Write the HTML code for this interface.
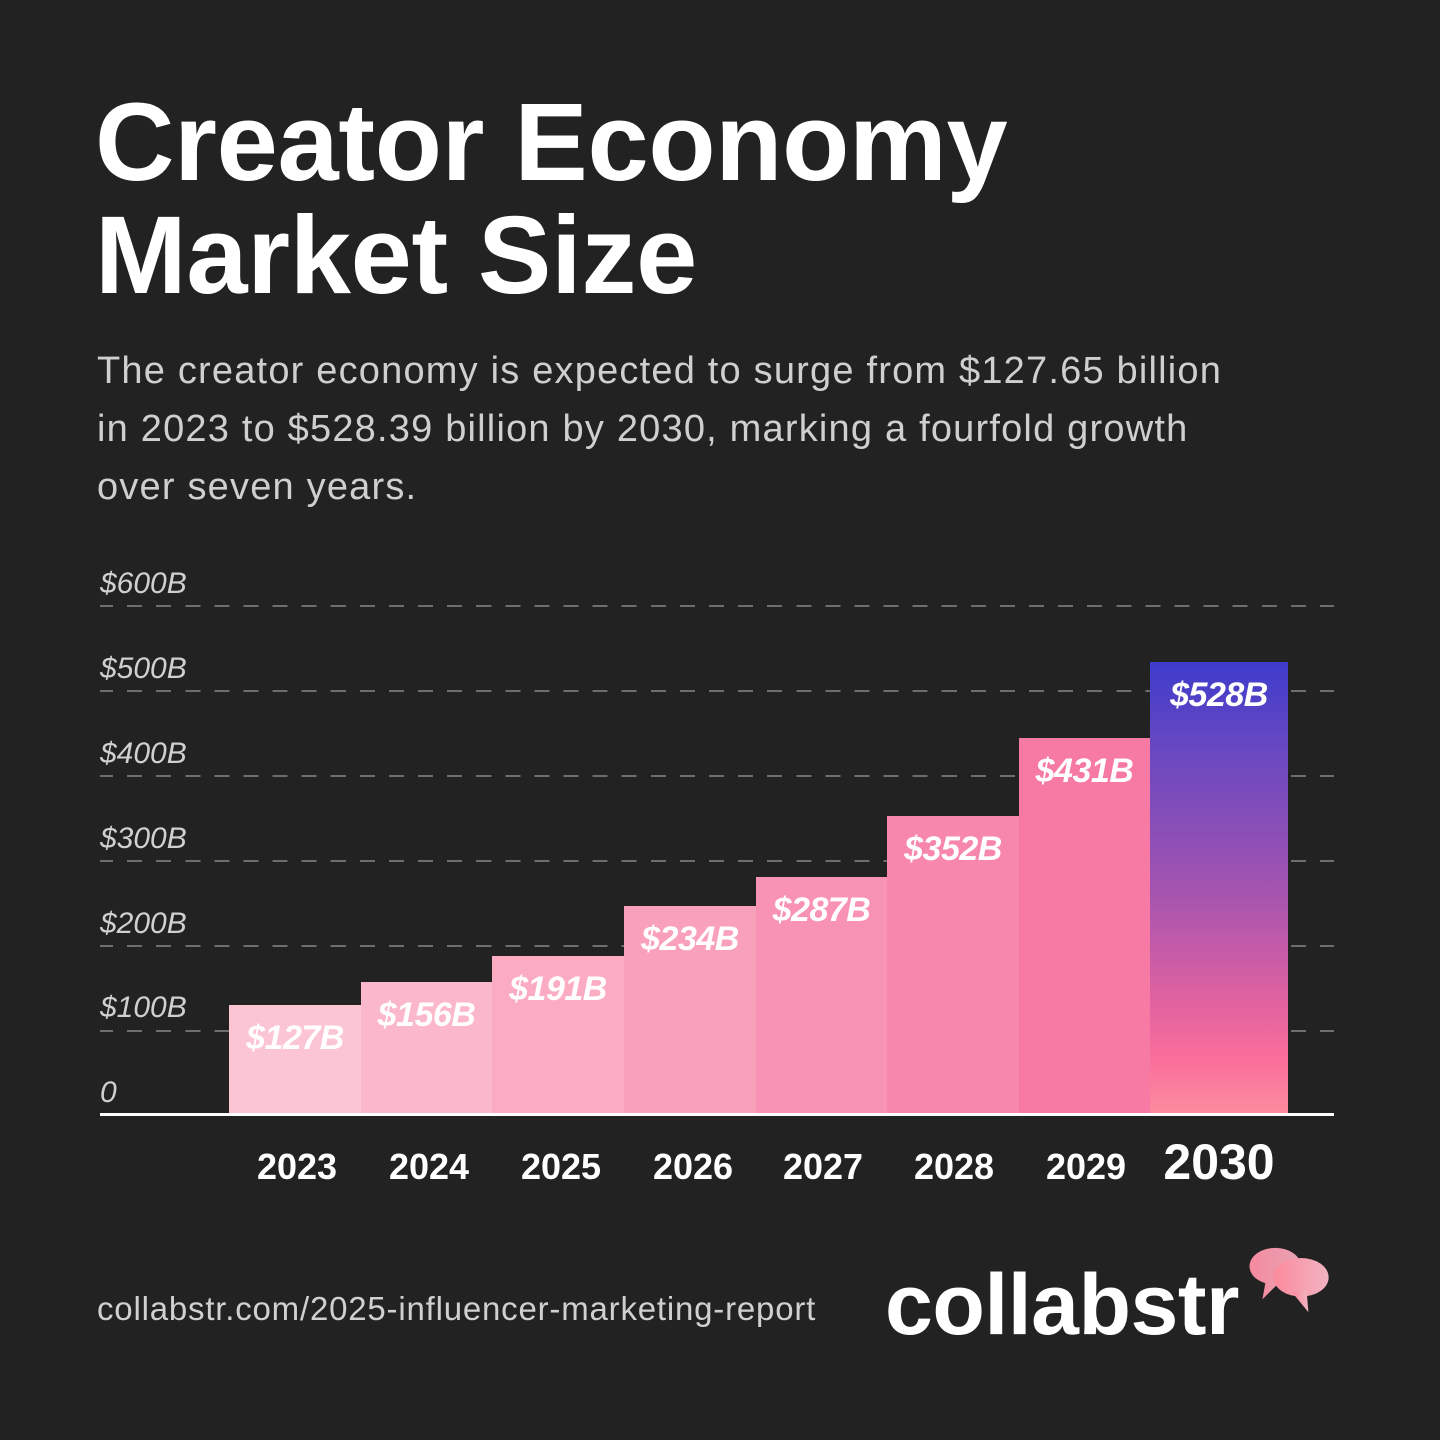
<!DOCTYPE html>
<html><head><meta charset="utf-8"><style>
body{margin:0;width:1440px;height:1440px;background:#222222;position:relative;overflow:hidden;font-family:"Liberation Sans",sans-serif;}
.a{position:absolute;white-space:nowrap;}
h1{position:absolute;left:95px;top:86px;margin:0;font-size:110px;line-height:113px;font-weight:bold;color:#fff;letter-spacing:-0.3px;}
.sub{left:97px;top:342px;font-size:38px;line-height:58px;color:#cfcfcf;letter-spacing:1.2px;}
.yl{left:100px;font-size:30px;font-style:italic;color:#d0d0d0;transform:translateY(-50%);}
.grid{position:absolute;left:100px;width:1234px;height:0;border-top:2px dashed #6e6e6e;}
.bar{position:absolute;bottom:326px;}
.val{position:absolute;left:0;right:0;text-align:center;font-size:34px;font-weight:bold;font-style:italic;color:#fff;top:14px;letter-spacing:-0.5px;}
.yr{top:1146px;font-size:36px;font-weight:bold;color:#fff;transform:translateX(-50%);}
</style></head><body>
<h1>Creator Economy<br>Market Size</h1>
<div class="a sub">The creator economy is expected to surge from $127.65 billion<br>in 2023 to $528.39 billion by 2030, marking a fourfold growth<br>over seven years.</div>

<div class="grid" style="top:605px;border-image:repeating-linear-gradient(90deg,#6e6e6e 0 15px,transparent 15px 29px) 2;"></div>
<div class="grid" style="top:690px;border-image:repeating-linear-gradient(90deg,#6e6e6e 0 15px,transparent 15px 29px) 2;"></div>
<div class="grid" style="top:775px;border-image:repeating-linear-gradient(90deg,#6e6e6e 0 15px,transparent 15px 29px) 2;"></div>
<div class="grid" style="top:860px;border-image:repeating-linear-gradient(90deg,#6e6e6e 0 15px,transparent 15px 29px) 2;"></div>
<div class="grid" style="top:945px;border-image:repeating-linear-gradient(90deg,#6e6e6e 0 15px,transparent 15px 29px) 2;"></div>
<div class="grid" style="top:1030px;border-image:repeating-linear-gradient(90deg,#6e6e6e 0 15px,transparent 15px 29px) 2;"></div>

<div class="a yl" style="top:584px">$600B</div>
<div class="a yl" style="top:669px">$500B</div>
<div class="a yl" style="top:754px">$400B</div>
<div class="a yl" style="top:839px">$300B</div>
<div class="a yl" style="top:924px">$200B</div>
<div class="a yl" style="top:1008px">$100B</div>
<div class="a yl" style="top:1093px">0</div>

<div class="bar" style="left:229px;width:132px;top:1005px;background:#fcc5d4"><div class="val">$127B</div></div>
<div class="bar" style="left:361px;width:131px;top:982px;background:#fbb8cb"><div class="val">$156B</div></div>
<div class="bar" style="left:492px;width:132px;top:956px;background:#fbacc3"><div class="val">$191B</div></div>
<div class="bar" style="left:624px;width:132px;top:906px;background:#f9a0bb"><div class="val">$234B</div></div>
<div class="bar" style="left:756px;width:131px;top:877px;background:#f993b5"><div class="val">$287B</div></div>
<div class="bar" style="left:887px;width:132px;top:816px;background:#f887ae"><div class="val">$352B</div></div>
<div class="bar" style="left:1019px;width:131px;top:738px;background:#f77aa5"><div class="val">$431B</div></div>
<div class="bar" style="left:1150px;width:138px;top:662px;background:linear-gradient(180deg,#3e3ccc 0%,#6a48c0 20%,#a353b0 50%,#e062a0 75%,#fa6e9c 88%,#fb8c9e 100%)"><div class="val">$528B</div></div>

<div style="position:absolute;left:100px;top:1113px;width:1234px;height:3px;background:#fff"></div>

<div class="a yr" style="left:297px">2023</div>
<div class="a yr" style="left:429px">2024</div>
<div class="a yr" style="left:561px">2025</div>
<div class="a yr" style="left:693px">2026</div>
<div class="a yr" style="left:823px">2027</div>
<div class="a yr" style="left:954px">2028</div>
<div class="a yr" style="left:1086px">2029</div>
<div class="a yr" style="left:1219px;top:1133px;font-size:50px">2030</div>

<div class="a" style="left:97px;top:1290px;font-size:33px;color:#d0d0d0;letter-spacing:0.8px">collabstr.com/2025-influencer-marketing-report</div>
<div class="a" style="left:885px;top:1256px;font-size:86px;font-weight:bold;color:#fff;letter-spacing:-0.5px">collabstr</div>
<svg class="a" style="left:1244px;top:1243px" width="92" height="76" viewBox="0 0 100 80">
<defs><linearGradient id="g1" x1="0" x2="1"><stop offset="0" stop-color="#f58aa0"/><stop offset="1" stop-color="#e7a3b3"/></linearGradient>
<linearGradient id="g2" x1="0" x2="1"><stop offset="0" stop-color="#fb8a9c"/><stop offset="1" stop-color="#f2b4c2"/></linearGradient></defs>
<ellipse cx="34" cy="24" rx="28" ry="20" fill="url(#g1)"/><polygon points="24,38 20,60 40,40" fill="url(#g1)"/>
<ellipse cx="62" cy="36" rx="30" ry="21" fill="url(#g2)"/><polygon points="52,52 70,74 68,50" fill="url(#g2)"/>
</svg>
</body></html>
